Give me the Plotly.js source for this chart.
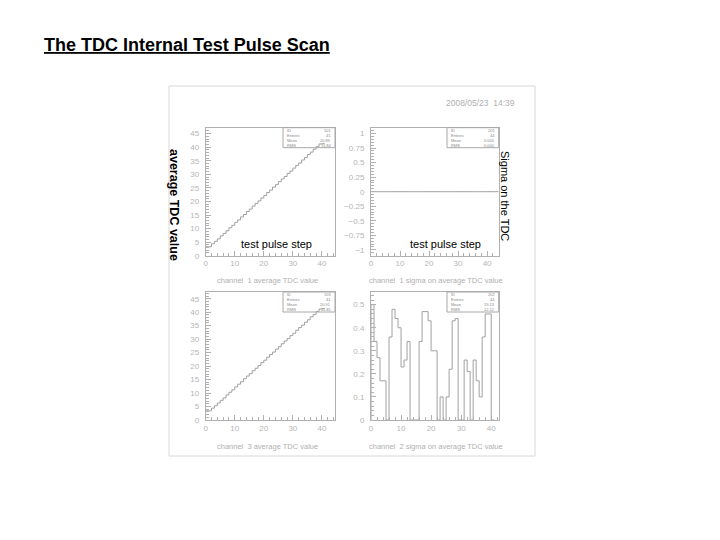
<!DOCTYPE html>
<html><head><meta charset="utf-8">
<script src="https://cdn.plot.ly/plotly-3.0.1.min.js"></script>
<style>body{margin:0;background:#fff;} #c{width:720px;height:540px;}</style>
</head><body><div id="c"></div>
<script>
// ---- data ----
const ch1Avg = [3.3, 3.3, 4.4, 5.3, 6.2, 7.3, 8.2, 9.2, 10.3, 11.2, 12.3, 13.2, 14.3, 15.2, 16.3, 17.2, 18.3, 19.3, 20.2, 21.3, 22.2, 23.3, 24.2, 25.3, 26.2, 27.3, 28.3, 29.2, 30.3, 31.2, 32.3, 33.3, 34.2, 35.3, 36.2, 37.3, 38.2, 39.3, 40.2, 41.2, 41.3];
const ch1Sigma = [0,0,0,0,0,0,0,0,0,0,0,0,0,0,0,0,0,0,0,0,0,0,0,0,0,0,0,0,0,0,0,0,0,0,0,0,0,0,0,0,0,0,0,0];
const ch3Avg = [3.4, 3.4, 4.4, 5.3, 6.3, 7.3, 8.2, 9.3, 10.3, 11.2, 12.3, 13.3, 14.2, 15.3, 16.3, 17.2, 18.3, 19.2, 20.2, 21.3, 22.2, 23.3, 24.3, 25.2, 26.3, 27.2, 28.3, 29.3, 30.2, 31.3, 32.2, 33.3, 34.3, 35.2, 36.3, 37.2, 38.3, 39.2, 40.3, 41.2, 41.3];
const ch2Sigma = [0.50, 0.34, 0.27, 0.17, 0.17, 0, 0.36, 0.48, 0.44, 0.40, 0.23, 0.26, 0.34, 0, 0, 0, 0.34, 0.47, 0.47, 0.43, 0.30, 0.30, 0, 0.10, 0, 0.10, 0.22, 0.43, 0.44, 0, 0, 0.26, 0.21, 0, 0.26, 0.17, 0.10, 0.36, 0.46, 0.46, 0];
const statLabels = ["ID", "Entries", "Mean", "RMS"];
const statsCh1Avg = ["101", "41", "20.89", "11.84"];
const statsCh1Sig = ["201", "44", "0.000", "0.000"];
const statsCh3Avg = ["103", "41", "20.91", "11.85"];
const statsCh2Sig = ["202", "44", "19.13", "12.12"];
const captions = ["channel  1 average TDC value", "channel  1 sigma on average TDC value", "channel  3 average TDC value", "channel  2 sigma on average TDC value"];

// ---- helpers ----
function stepTrace(vals, xa, ya, dropEnds) {
  const x = [], y = [];
  if (dropEnds) { x.push(0); y.push(0); }
  vals.forEach((v, i) => { x.push(i); y.push(v); });
  x.push(vals.length); y.push(vals[vals.length - 1]);
  if (dropEnds) { x.push(vals.length); y.push(0); }
  return {x, y, xaxis: xa, yaxis: ya, type: 'scatter', mode: 'lines',
    line: {shape: 'hv', color: '#a0a0a0', width: 1}, hoverinfo: 'skip', showlegend: false};
}
const GRAY = '#b0b0b0';
const tickFont = {family: 'Liberation Sans, Arial, sans-serif', size: 8, color: '#b5b5b5'};
function xax(dom, range, anchor) {
  return {domain: dom, range: range, anchor: anchor, showgrid: false, zeroline: false,
    showline: true, mirror: true, linecolor: GRAY, linewidth: 1,
    ticks: 'inside', ticklen: 5, tickcolor: GRAY, dtick: 10, tick0: 0, tickfont: tickFont,
    minor: {ticks: 'inside', ticklen: 3, tickcolor: GRAY, dtick: 2},
    fixedrange: true};
}
function yax(dom, range, anchor, dtick, minor) {
  return {domain: dom, range: range, anchor: anchor, showgrid: false, zeroline: false,
    showline: true, mirror: true, linecolor: GRAY, linewidth: 1,
    ticks: 'inside', ticklen: 5, tickcolor: GRAY, dtick: dtick, tick0: 0, tickfont: tickFont,
    ticklabelstandoff: 4,
    minor: {ticks: 'inside', ticklen: 3, tickcolor: GRAY, dtick: minor},
    fixedrange: true};
}

const W = 720, H = 540;
const px = v => v / W, py = v => 1 - v / H;
const colL = [px(205.7), px(335)], colR = [px(371), px(498.7)];
const rowT = [py(255.7), py(127.7)], rowB = [py(420), py(292)];

const data = [
  stepTrace(ch1Avg, 'x', 'y', false),
  stepTrace(ch1Sigma, 'x2', 'y2', false),
  stepTrace(ch3Avg, 'x3', 'y3', false),
  stepTrace(ch2Sigma, 'x4', 'y4', true)
];

const shapes = [];
const annotations = [];
// outer picture frame
shapes.push({type: 'rect', xref: 'paper', yref: 'paper', x0: px(169), x1: px(535), y0: py(456), y1: py(86),
  line: {color: '#d8d8d8', width: 1}});
// stats boxes
function statBox(x0, x1, y0, y1, vals) {
  shapes.push({type: 'rect', xref: 'paper', yref: 'paper', x0: px(x0), x1: px(x1), y0: py(y1), y1: py(y0),
    line: {color: '#a8a8a8', width: 1}, fillcolor: 'rgba(255,255,255,0)'});
  const h = (y1 - y0) / 4;
  statLabels.forEach((lab, i) => {
    const yy = y0 + h * (i + 0.5);
    annotations.push({xref: 'paper', yref: 'paper', x: px(x0 + 2), y: py(yy), text: lab, showarrow: false,
      xanchor: 'left', yanchor: 'middle', font: {family: 'Liberation Sans, Arial', size: 4, color: '#888'}});
    annotations.push({xref: 'paper', yref: 'paper', x: px(x1 - 2), y: py(yy), text: vals[i], showarrow: false,
      xanchor: 'right', yanchor: 'middle', font: {family: 'Liberation Sans, Arial', size: 4, color: '#888'}});
  });
}
statBox(283, 335, 127.7, 147.7, statsCh1Avg);
statBox(447, 498.7, 127.7, 147.7, statsCh1Sig);
statBox(283, 335, 292, 312, statsCh3Avg);
statBox(447, 498.7, 292, 312, statsCh2Sig);

const capFont = {family: 'Liberation Sans, Arial, sans-serif', size: 7.5, color: '#b0b0b0'};
[[267, 280], [436, 280], [267, 446], [436, 446]].forEach((p, i) => {
  annotations.push({xref: 'paper', yref: 'paper', x: px(p[0]), y: py(p[1]), text: captions[i], showarrow: false,
    xanchor: 'center', yanchor: 'middle', font: capFont});
});
annotations.push({xref: 'paper', yref: 'paper', x: px(480), y: py(103), text: '2008/05/23  14:39', showarrow: false,
  xanchor: 'center', yanchor: 'middle', font: {family: 'Liberation Sans, Arial', size: 8.5, color: '#b0b0b0'}});
// black overlay texts
annotations.push({xref: 'paper', yref: 'paper', x: px(174), y: py(205), text: '<b>average TDC value</b>', showarrow: false,
  textangle: 90, xanchor: 'center', yanchor: 'middle', font: {family: 'Liberation Sans, Arial, sans-serif', size: 12.5, color: '#000'}});
annotations.push({xref: 'paper', yref: 'paper', x: px(505), y: py(196), text: 'Sigma on the TDC', showarrow: false,
  textangle: 90, xanchor: 'center', yanchor: 'middle', font: {family: 'Liberation Sans, Arial, sans-serif', size: 11, color: '#000'}});
annotations.push({xref: 'paper', yref: 'paper', x: px(276), y: py(244), text: 'test pulse step', showarrow: false,
  xanchor: 'center', yanchor: 'middle', font: {family: 'Liberation Sans, Arial, sans-serif', size: 11, color: '#000'}});
annotations.push({xref: 'paper', yref: 'paper', x: px(445), y: py(244), text: 'test pulse step', showarrow: false,
  xanchor: 'center', yanchor: 'middle', font: {family: 'Liberation Sans, Arial, sans-serif', size: 11, color: '#000'}});
// page title
annotations.push({xref: 'paper', yref: 'paper', x: px(42), y: py(45), text: '<b><u>The TDC Internal Test Pulse Scan</u></b>', showarrow: false,
  xanchor: 'left', yanchor: 'middle', font: {family: 'Liberation Sans, Arial, sans-serif', size: 18, color: '#000'}});

const layout = {
  width: W, height: H, margin: {l: 0, r: 0, t: 0, b: 0},
  paper_bgcolor: '#fff', plot_bgcolor: '#fff', showlegend: false,
  xaxis: xax(colL, [0, 44.5], 'y'),
  yaxis: yax(rowT, [0, 47.2], 'x', 5, 1),
  xaxis2: xax(colR, [0, 44], 'y2'),
  yaxis2: yax(rowT, [-1.1, 1.1], 'x2', 0.25, 0.05),
  xaxis3: xax(colL, [0, 44.5], 'y3'),
  yaxis3: yax(rowB, [0, 47.5], 'x3', 5, 1),
  xaxis4: xax(colR, [0, 42.5], 'y4'),
  yaxis4: yax(rowB, [0, 0.555], 'x4', 0.1, 0.02),
  shapes: shapes, annotations: annotations
};
Plotly.newPlot('c', data, layout, {staticPlot: true, displayModeBar: false});
</script></body></html>
